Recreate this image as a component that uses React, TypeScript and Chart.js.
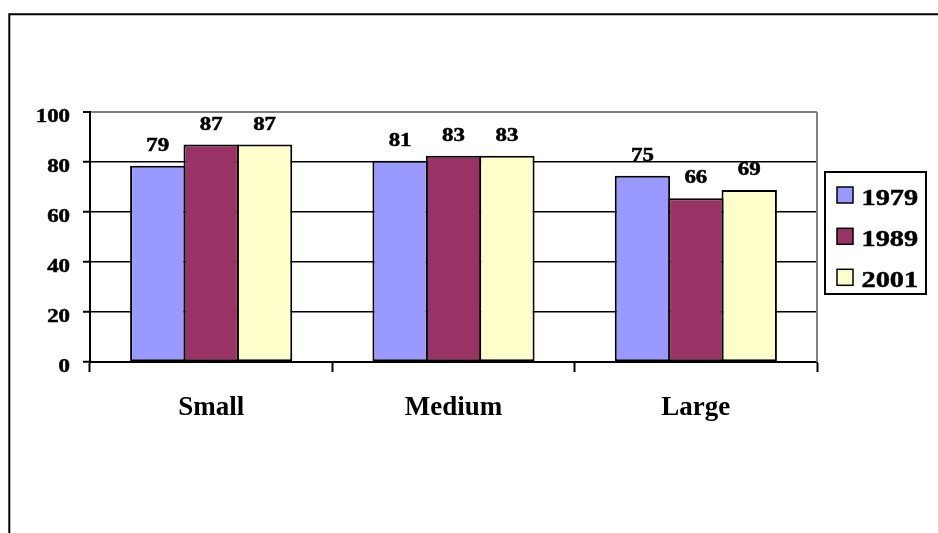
import React, { useEffect, useRef } from "react";
import { Chart, registerables } from "chart.js";

Chart.register(...registerables);

const categories = ["Small", "Medium", "Large"];
const seriesLabels = ["1979", "1989", "2001"];
const values1979 = [78.5, 80.5, 74.5];
const values1989 = [87, 82.5, 65.5];
const values2001 = [87, 82.5, 68.8];
const yTicks = [0, 20, 40, 60, 80, 100];
const seriesColors = ["#9999FF", "#993366", "#FFFFCC"];

const FONT = '"Liberation Serif", "Times New Roman", serif';

function drawStretched(
  ctx: CanvasRenderingContext2D,
  text: string,
  x: number,
  y: number,
  size: number,
  sx: number,
  align: "left" | "center" | "right"
) {
  ctx.save();
  ctx.font = `bold ${size}px ${FONT}`;
  ctx.textBaseline = "alphabetic";
  ctx.textAlign = "left";
  const w = ctx.measureText(text).width * sx;
  let left = x;
  if (align === "center") left = x - w / 2;
  else if (align === "right") left = x - w;
  ctx.translate(left, y);
  ctx.scale(sx, 1);
  ctx.fillStyle = "#000";
  ctx.strokeStyle = "#000";
  ctx.lineWidth = 0.5;
  ctx.fillText(text, 0, 0);
  ctx.strokeText(text, 0, 0);
  ctx.restore();
}

const decorPlugin = {
  id: "decor",
  beforeDraw(chart: any) {
    const ctx = chart.ctx as CanvasRenderingContext2D;
    ctx.save();
    ctx.strokeStyle = "#000";
    ctx.lineWidth = 2;
    ctx.beginPath();
    ctx.moveTo(9.3, 545);
    ctx.lineTo(9.3, 14.3);
    ctx.lineTo(950, 14.3);
    ctx.stroke();
    ctx.restore();
  },
  afterDatasetsDraw(chart: any) {
    const ctx = chart.ctx as CanvasRenderingContext2D;
    chart.data.datasets.forEach((ds: any, di: number) => {
      const meta = chart.getDatasetMeta(di);
      meta.data.forEach((el: any, i: number) => {
        const v = ds.data[i] as number;
        drawStretched(ctx, String(Math.round(v)), el.x, el.y - 15, 18, 1.27, "center");
      });
    });
  },
  afterDraw(chart: any) {
    const ctx = chart.ctx as CanvasRenderingContext2D;
    const area = chart.chartArea;
    const yScale = chart.scales.y;
    ctx.save();
    ctx.strokeStyle = "#808080";
    ctx.lineWidth = 2;
    ctx.beginPath();
    ctx.moveTo(area.right, area.top);
    ctx.lineTo(area.right, area.bottom);
    ctx.stroke();
    ctx.restore();
    yTicks.forEach((t) => {
      const y = yScale.getPixelForValue(t);
      drawStretched(ctx, String(t), 70, y + 10, 18, 1.27, "right");
    });
    ctx.save();
    ctx.fillStyle = "#fff";
    ctx.fillRect(825, 172, 101, 122);
    ctx.strokeStyle = "#000";
    ctx.lineWidth = 2;
    ctx.strokeRect(825, 172, 101, 122);
    const rowCenters = [195, 236.3, 277.3];
    chart.data.datasets.forEach((ds: any, i: number) => {
      const cy = rowCenters[i];
      ctx.fillStyle = ds.backgroundColor;
      ctx.fillRect(837, cy - 8, 16, 16);
      ctx.strokeStyle = "#000";
      ctx.lineWidth = 1.5;
      ctx.strokeRect(837, cy - 8, 16, 16);
      drawStretched(ctx, ds.label, 861.5, cy + 10, 24, 1.18, "left");
    });
    ctx.restore();
  },
};

export default function App() {
  const ref = useRef<HTMLCanvasElement | null>(null);

  useEffect(() => {
    if (!ref.current) return;
    const allValues = [values1979, values1989, values2001];
    const chart = new Chart(ref.current, {
      type: "bar",
      data: {
        labels: categories,
        datasets: seriesLabels.map((label, i) => ({
          label,
          data: allValues[i],
          backgroundColor: seriesColors[i],
          borderColor: "#000",
          borderWidth: 2,
          borderSkipped: false,
          categoryPercentage: 0.661,
          barPercentage: 1.037,
        })),
      },
      options: {
        animation: false,
        responsive: false,
        layout: { padding: { top: 112, right: 121, left: 0, bottom: 0 } },
        plugins: {
          legend: { display: false },
          tooltip: { enabled: false },
        },
        scales: {
          x: {
            grid: {
              offset: true,
              drawOnChartArea: false,
              drawTicks: true,
              tickLength: 10,
              tickColor: "#000",
              tickWidth: 2,
            },
            border: { color: "#000", width: 2 },
            ticks: {
              color: "#000",
              font: { family: FONT, size: 27, weight: "bold" },
              padding: 20,
              maxRotation: 0,
            },
            afterFit: (s: any) => {
              s.height = 533 - 362;
            },
          },
          y: {
            min: 0,
            max: 100,
            ticks: {
              stepSize: 20,
              color: "rgba(0,0,0,0)",
              font: { family: FONT, size: 18, weight: "bold" },
            },
            grid: {
              color: (c: any) => (c.tick && c.tick.value === 100 ? "#808080" : "#000"),
              lineWidth: (c: any) => (c.tick && c.tick.value === 100 ? 2 : 1.5),
              tickColor: "#000",
              tickLength: 7,
              tickWidth: 2,
              drawTicks: true,
            },
            border: { color: "#000", width: 2 },
            afterFit: (s: any) => {
              s.width = 90;
            },
          },
        },
      },
      plugins: [decorPlugin],
    } as any);
    return () => chart.destroy();
  }, []);

  return (
    <div style={{ position: "fixed", left: 0, top: 0, width: 938, height: 533, background: "#fff" }}>
      <canvas ref={ref} width={938} height={533} style={{ display: "block" }} />
    </div>
  );
}
